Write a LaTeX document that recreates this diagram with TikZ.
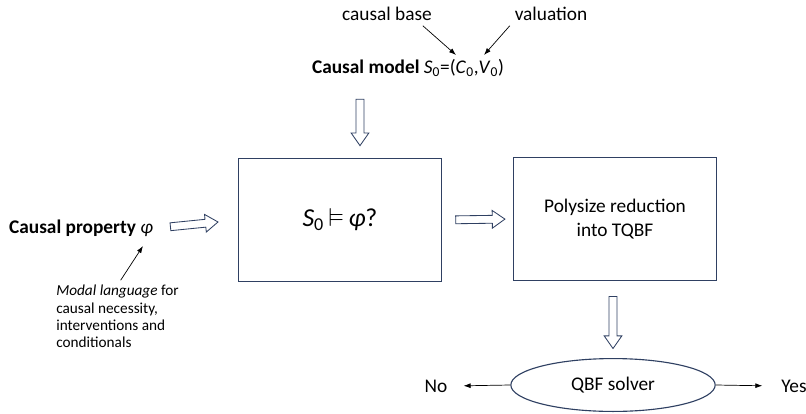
\documentclass[tikz,border=0pt]{standalone}
\usepackage{amssymb}
\usepackage{fontspec}
\setmainfont{Carlito}
\usetikzlibrary{arrows.meta,shapes.geometric,shapes.arrows,calc}

\definecolor{boxline}{RGB}{47,64,98}

\tikzset{
	txt/.style={font=\fontsize{13.75}{16.5}\selectfont},
	stage/.style={draw=boxline, line width=0.8pt, minimum width=144.6pt, minimum height=87.9pt, txt, align=center},
	fatarrow/.style={single arrow, draw=boxline, line width=0.6pt, inner xsep=0pt, inner ysep=2.5pt,
		single arrow head extend=3.5pt, single arrow tip angle=70, minimum height=#1, sloped, anchor=center},
	pointer/.style={-{Latex[length=5pt,width=3.5pt]}, line width=0.5pt}
}

\begin{document}
\begin{tikzpicture}[x=0.025cm, y=-0.025cm]
	
	\useasboundingbox (0,0) rectangle (806,413);
	
	% inputs
	\node[txt] (base) at (387, 14) {causal base};
	\node[txt] (val) at (551, 14) {valuation};
	\node[txt] (model) at (408, 68) {\textbf{Causal model} \textit{S}\textsubscript{0}=(\textit{C}\textsubscript{0},\textit{V}\textsubscript{0})};
	\node[txt] (prop) at (81, 228) {\textbf{Causal property} \textit{φ}};
	\node[font=\fontsize{10.85}{12.2}\selectfont, align=left, anchor=north west, inner sep=0pt] (note) at (56, 285)
		{\textit{Modal language} for\\causal necessity,\\interventions and\\conditionals};
	
	% stages
	\node[stage] (check) at (340, 220) {\fontsize{18.4}{22}\selectfont \textit{S}\textsubscript{0}\,$\vDash$\,\textit{φ}?};
	\node[stage] (reduce) at (615, 219) {Polysize reduction\\into TQBF};
	\node[draw=boxline, line width=0.8pt, shape=ellipse, minimum width=145.3pt, minimum height=37.6pt, inner sep=0pt, txt] (solver) at (613, 385) {QBF solver};
	\node[txt] (no) at (436, 386) {No};
	\node[txt] (yes) at (794, 386) {Yes};
	
	\coordinate (basetip) at (456, 55);
	\coordinate (valtip) at (484, 55);
	\coordinate (phitip) at (143, 246);
	
	\draw[pointer] ($(base.south east)+(-14,0)$) -- (basetip);
	\draw[pointer] (val.south west) -- (valtip);
	\draw[pointer, shorten <=4pt] (note.north) -- (phitip);
	
	\path ($(model.south)+(-48,0)$) -- node[fatarrow=33pt] {} ($(check.north)+(20,0)$);
	\path (prop.east) -- node[fatarrow=34pt, pos=0.42] {} (check.west);
	\path (check.east) -- node[fatarrow=35pt] {} (reduce.west);
	\path (reduce.south -| solver.north) -- node[fatarrow=37pt] {} (solver.north);
	
	\draw[pointer, shorten >=8pt] (solver.west) -- (no.east);
	\draw[pointer, shorten >=10pt] (solver.east) -- (yes.west);
	
\end{tikzpicture}
\end{document}
